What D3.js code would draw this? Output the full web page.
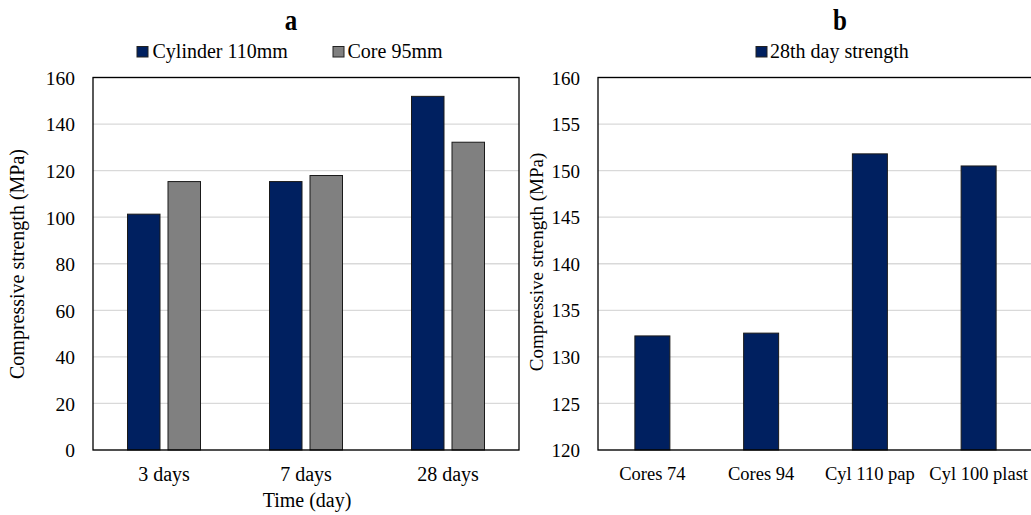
<!DOCTYPE html>
<html><head><meta charset="utf-8">
<script src="https://cdn.jsdelivr.net/npm/d3@7"></script>
<style>
body{margin:0;background:#fff;}
svg text{font-family:"Liberation Serif","Times New Roman",serif;fill:#000;}
</style></head><body>
<svg id="c" width="1031" height="515"></svg>
<script>
const categoriesA = ["3 days", "7 days", "28 days"];
const seriesA = ["Cylinder 110mm", "Core 95mm"];
const cylinderValues = [101.3, 115.3, 151.9];
const coreValues = [115.3, 117.9, 132.2];
const ticksA = [0, 20, 40, 60, 80, 100, 120, 140, 160];

const categoriesB = ["Cores 74", "Cores 94", "Cyl 110 pap", "Cyl 100 plast"];
const seriesB = ["28th day strength"];
const strengthValues = [132.25, 132.55, 151.8, 150.5];
const ticksB = [120, 125, 130, 135, 140, 145, 150, 155, 160];

const colors = {navy: "#002060", gray: "#808080"};
const svg = d3.select("#c");

function panel(opts) {
  const g = svg.append("g");
  const x = d3.scaleBand().domain(opts.categories).range([opts.left, opts.right]).paddingInner(0).paddingOuter(0);
  const y = d3.scaleLinear().domain(opts.domain).range([450, 77.5]);
  g.append("g").selectAll("line").data(opts.ticks).join("line")
    .attr("x1", opts.left).attr("x2", opts.right)
    .attr("y1", d => y(d)).attr("y2", d => y(d))
    .attr("stroke", "#d9d9d9").attr("stroke-width", 1.3);
  const ya = g.append("g").attr("transform", `translate(${opts.left},0)`)
    .call(d3.axisLeft(y).tickValues(opts.ticks).tickSize(0).tickPadding(18));
  ya.attr("font-family", null).attr("font-size", null);
  ya.select(".domain").remove();
  ya.selectAll("text").attr("font-size", opts.tickFS).attr("dy", "0.35em");
  opts.bars(g, x, y);
  g.append("rect").attr("x", opts.left).attr("y", 77.5).attr("width", opts.right - opts.left).attr("height", 450 - 77.5)
    .attr("fill", "none").attr("stroke", "#000").attr("stroke-width", 1.3);
  const xa = g.append("g").attr("transform", `translate(0,450)`)
    .call(d3.axisBottom(x).tickSize(0).tickPadding(17));
  xa.attr("font-family", null).attr("font-size", null);
  xa.select(".domain").remove();
  xa.selectAll("text").attr("font-size", opts.xFS);
  g.append("text").attr("transform", `translate(${opts.ylabX},${opts.ylabY}) rotate(-90)`)
    .attr("text-anchor", "middle").attr("font-size", opts.yFS).text("Compressive strength (MPa)");
  g.append("text").attr("transform", `translate(${opts.titleX},30) scale(1,1.22)`).attr("text-anchor", "middle")
    .attr("font-size", 25).attr("font-weight", "bold").text(opts.title);
  opts.legend.forEach(l => {
    g.append("rect").attr("x", l.x).attr("y", 46.5).attr("width", 11).attr("height", 10.5)
      .attr("fill", l.color).attr("stroke", "#222").attr("stroke-width", 1);
    g.append("text").attr("x", l.x + l.dx).attr("y", 58).attr("font-size", 20).text(l.label);
  });
  return {x, y};
}

panel({
  categories: categoriesA, domain: [0, 160], ticks: ticksA, left: 93, right: 519,
  ylabX: 24, ylabY: 264, titleX: 291, title: "a", tickFS: 19.5, xFS: 20, yFS: 20,
  legend: [{x: 137, dx: 15.5, color: colors.navy, label: seriesA[0]}, {x: 333, dx: 14.5, color: colors.gray, label: seriesA[1]}],
  bars: (g, x, y) => {
    const bw = 32.5, gap = 8;
    const sets = [{vals: cylinderValues, color: colors.navy, off: -gap / 2 - bw},
                  {vals: coreValues, color: colors.gray, off: gap / 2}];
    sets.forEach(s => {
      g.append("g").selectAll("rect").data(categoriesA).join("rect")
        .attr("x", d => x(d) + x.bandwidth() / 2 + s.off)
        .attr("width", bw)
        .attr("y", (d, i) => y(s.vals[i]))
        .attr("height", (d, i) => y(0) - y(s.vals[i]))
        .attr("fill", s.color).attr("stroke", "#1a1a1a").attr("stroke-width", 1);
    });
  }
});

panel({
  categories: categoriesB, domain: [120, 160], ticks: ticksB, left: 598, right: 1033,
  ylabX: 543, ylabY: 262, titleX: 840, title: "b", tickFS: 19, xFS: 18.5, yFS: 19,
  legend: [{x: 756, dx: 14, color: colors.navy, label: seriesB[0]}],
  bars: (g, x, y) => {
    const bw = 35;
    g.append("g").selectAll("rect").data(categoriesB).join("rect")
      .attr("x", d => x(d) + x.bandwidth() / 2 - bw / 2)
      .attr("width", bw)
      .attr("y", (d, i) => y(strengthValues[i]))
      .attr("height", (d, i) => y(120) - y(strengthValues[i]))
      .attr("fill", colors.navy).attr("stroke", "#1a1a1a").attr("stroke-width", 1);
  }
});

svg.append("text").attr("x", 307).attr("y", 507).attr("text-anchor", "middle").attr("font-size", 20).text("Time (day)");
</script></body></html>
